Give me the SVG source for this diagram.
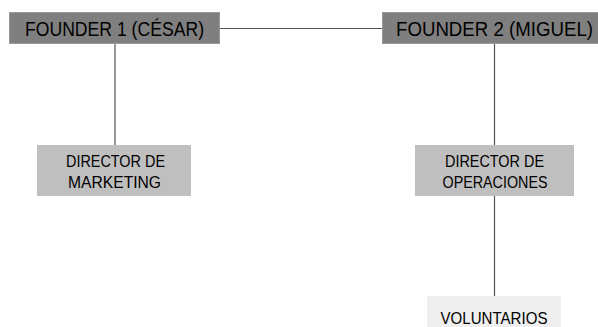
<svg xmlns="http://www.w3.org/2000/svg" width="598" height="327" viewBox="0 0 598 327">
<style>
.f{fill:#7f7f7f;stroke:#9a9a9a;stroke-width:1}
.d{fill:#bfbfbf}
.v{fill:#efefef}
text{font-family:"Liberation Sans","Open Sans",sans-serif;fill:#000;text-anchor:start}
.t1{font-size:20px}
.t2{font-size:16.5px}
.c line{stroke:#555;stroke-width:1.2}
</style>
<rect width="598" height="327" fill="#fff"/>
<g class="c" id="connectors">
<line x1="220" y1="28.5" x2="382" y2="28.5"/>
<line x1="115" y1="44" x2="115" y2="145"/>
<line x1="494.5" y1="44" x2="494.5" y2="145"/>
<line x1="494.5" y1="196" x2="494.5" y2="296"/>
</g>
<g id="founder1">
<rect class="f" x="9.5" y="12.5" width="210" height="31"/>
<text class="t1" x="25" y="36" textLength="179" lengthAdjust="spacingAndGlyphs">FOUNDER 1 (CÉSAR)</text>
</g>
<g id="founder2">
<rect class="f" x="382.5" y="12.5" width="216" height="31"/>
<text class="t1" x="396" y="36" textLength="197" lengthAdjust="spacingAndGlyphs">FOUNDER 2 (MIGUEL)</text>
</g>
<g id="dir-marketing">
<rect class="d" x="37" y="145" width="154" height="51"/>
<text class="t2" x="66" y="167" textLength="99" lengthAdjust="spacingAndGlyphs">DIRECTOR DE</text>
<text class="t2" x="68" y="188" textLength="93" lengthAdjust="spacingAndGlyphs">MARKETING</text>
</g>
<g id="dir-operaciones">
<rect class="d" x="415" y="145" width="159" height="51"/>
<text class="t2" x="445" y="167" textLength="99" lengthAdjust="spacingAndGlyphs">DIRECTOR DE</text>
<text class="t2" x="442.5" y="188" textLength="105" lengthAdjust="spacingAndGlyphs">OPERACIONES</text>
</g>
<g id="voluntarios">
<rect class="v" x="427" y="296" width="134" height="31"/>
<text class="t2" x="440.5" y="323.5" textLength="107" lengthAdjust="spacingAndGlyphs">VOLUNTARIOS</text>
</g>
</svg>
